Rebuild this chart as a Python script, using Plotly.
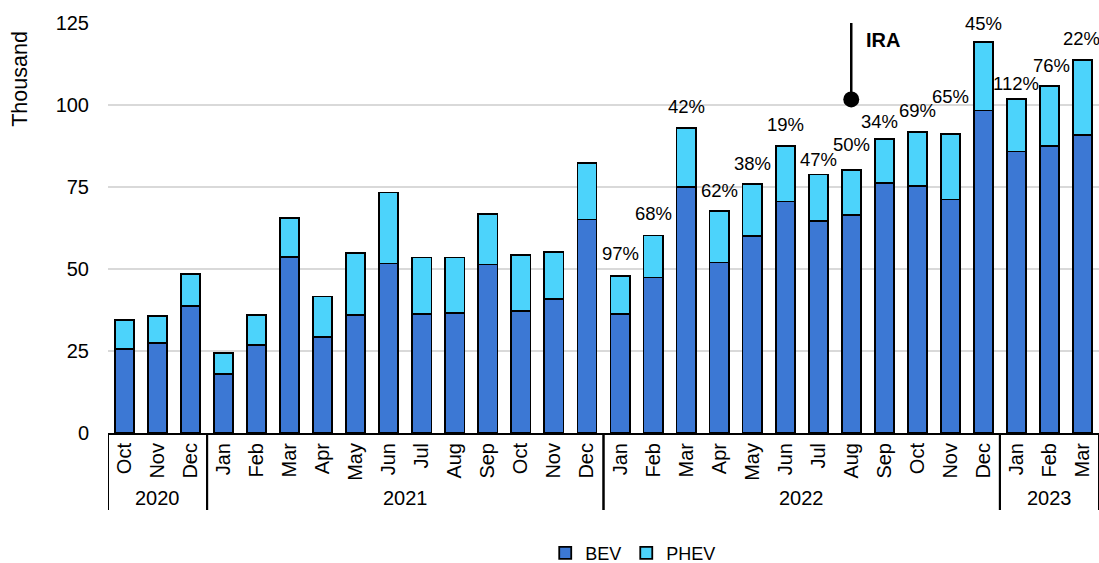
import plotly.graph_objects as go

# ---- data ----
years = ["2020"] * 3 + ["2021"] * 12 + ["2022"] * 12 + ["2023"] * 3
months = ["Oct", "Nov", "Dec",
          "Jan", "Feb", "Mar", "Apr", "May", "Jun", "Jul", "Aug", "Sep", "Oct", "Nov", "Dec",
          "Jan", "Feb", "Mar", "Apr", "May", "Jun", "Jul", "Aug", "Sep", "Oct", "Nov", "Dec",
          "Jan", "Feb", "Mar"]
bev = [25.7, 27.5, 38.8,
       18.1, 26.8, 53.6, 29.3, 36.0, 51.7, 36.2, 36.7, 51.4, 37.1, 40.8, 65.1,
       36.3, 47.4, 75.1, 52.0, 60.0, 70.6, 64.6, 66.5, 76.2, 75.3, 71.2, 98.3,
       85.8, 87.5, 90.9]
phev = [8.8, 8.2, 9.6,
        6.4, 9.1, 11.9, 12.3, 18.9, 21.6, 17.3, 16.8, 15.3, 17.2, 14.5, 17.1,
        11.6, 12.8, 17.8, 15.6, 15.8, 16.9, 14.2, 13.8, 13.4, 16.4, 19.9, 21.0,
        16.0, 18.3, 22.7]
yoy_growth = [None] * 15 + [97, 68, 42, 62, 38, 19, 47, 50, 34, 69, 65, 45, 112, 76, 22]
y_ticks = [0, 25, 50, 75, 100, 125]
ira_month = ("2022", "Aug")
ira_level = 101.7
ira_label_level = 119.8

# ---- styling / label nudges (pixels) ----
label_dy = [0] * 15 + [22, 22, 22, 21, 21, 22, 15, 25, 18, 22, 38, 18, 16, 20, 22]
label_dx = [0] * 15 + [0, 0, 0, 0, 0, 0, 0, 0, -5, 0, 0, 0, 0, 2, -1]

FONT = "Liberation Sans, Arial, sans-serif"
BEV_C = "#3C78D4"
PHEV_C = "#4CD3FB"

idx = list(range(len(months)))

fig = go.Figure()
fig.add_trace(go.Bar(x=idx, y=bev, name="BEV", width=0.58,
                     marker=dict(color=BEV_C, line=dict(color="black", width=1.8))))
fig.add_trace(go.Bar(x=idx, y=phev, name="PHEV", width=0.58,
                     marker=dict(color=PHEV_C, line=dict(color="black", width=1.8))))

totals = [b + p for b, p in zip(bev, phev)]
for i, g in enumerate(yoy_growth):
    if g is None:
        continue
    fig.add_annotation(x=i, y=totals[i], text=f"{g}%", showarrow=False,
                       yanchor="middle", yshift=label_dy[i], xshift=label_dx[i],
                       font=dict(size=18.5, color="black", family=FONT))

# year group labels and dividers
groups = []
for i, yv in enumerate(years):
    if not groups or groups[-1][0] != yv:
        groups.append([yv, i, i])
    else:
        groups[-1][2] = i
div_depth = -(510 - 433) / 410
for yv, a, b in groups:
    fig.add_annotation(x=(a + b) / 2, xref="x", y=0, yref="paper", yshift=-65, yanchor="middle",
                       text=yv, showarrow=False, font=dict(size=20, color="black", family=FONT))
    for edge in (a - 0.5, b + 0.5):
        fig.add_shape(type="line", xref="x", yref="paper", x0=edge, x1=edge, y0=0, y1=div_depth,
                      line=dict(color="black", width=2))

ira_idx = [i for i in idx if (years[i], months[i]) == ira_month][0]
fig.add_shape(type="line", xref="x", yref="y", x0=ira_idx, x1=ira_idx, y0=ira_level, y1=y_ticks[-1],
              line=dict(color="black", width=2.5))
fig.add_trace(go.Scatter(x=[ira_idx], y=[ira_level], mode="markers",
                         marker=dict(color="black", size=16), showlegend=False, hoverinfo="skip"))
fig.add_annotation(x=ira_idx, y=ira_label_level, text="<b>IRA</b>", showarrow=False,
                   xanchor="left", xshift=13, yanchor="middle",
                   font=dict(size=20, color="black", family=FONT))

fig.add_annotation(xref="paper", x=0, xshift=-88, xanchor="center", yref="y", y=108, yanchor="middle",
                   text="Thousand", textangle=-90, showarrow=False,
                   font=dict(size=21.5, color="black", family=FONT))

fig.update_layout(
    barmode="stack",
    width=1099, height=563,
    margin=dict(l=108, r=0, t=23, b=130, autoexpand=False),
    paper_bgcolor="white", plot_bgcolor="white",
    font=dict(family=FONT, color="black", size=20),
    showlegend=True,
    legend=dict(orientation="h", x=0.53, xanchor="center", y=-0.293, yanchor="middle",
                font=dict(size=18, family=FONT), itemwidth=30, traceorder="normal"),
)
fig.update_xaxes(range=[-0.5, len(months) - 0.5], tickvals=idx, ticktext=months, tickangle=-90,
                 showline=True, linecolor="black", linewidth=2, showgrid=False, zeroline=False,
                 ticks="", tickfont=dict(size=20, family=FONT), automargin=False)
fig.update_yaxes(range=[0, 125], tickvals=y_ticks, showgrid=True, gridcolor="#D9D9D9", gridwidth=2,
                 zeroline=False, showline=False, ticks="outside", ticklen=14, tickcolor="rgba(0,0,0,0)",
                 tickfont=dict(size=20, family=FONT), automargin=False)

fig.write_html("out.html", config={"displayModeBar": False},
               post_script="document.body.style.margin='0px'; document.body.style.overflow='hidden';")
